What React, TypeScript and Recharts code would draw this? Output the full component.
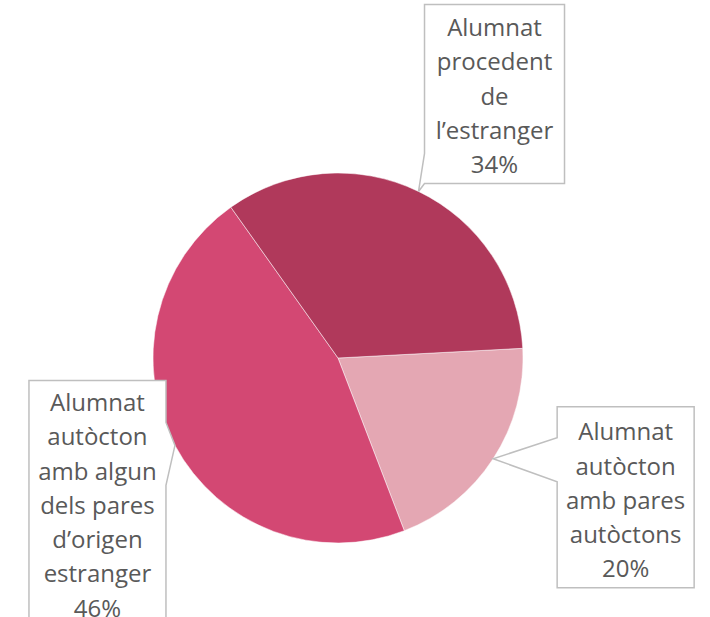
import { PieChart, Pie, Cell } from "recharts";

// slices in clockwise order starting just above 3 o'clock
const categories = [
  ["Alumnat", "autòcton", "amb pares", "autòctons"],
  ["Alumnat", "autòcton", "amb algun", "dels pares", "d’origen", "estranger"],
  ["Alumnat", "procedent", "de", "l’estranger"],
];
const values = [20, 46, 34];
const colors = ["#E4A7B3", "#D34873", "#B0395B"];

// callout box placement relative to the pointer tip on the slice edge
const callouts = [
  { dx: 64, dy: -52, w: 137, h: 181, side: "left", b1: 31, b2: 75, first: 24 },
  { dx: -146, dy: -65, w: 137, h: 252, side: "right", b1: 42, b2: 105, first: 21 },
  { dx: 6, dy: -187, w: 140, h: 179, side: "left", b1: 149, b2: 179, first: 22 },
];

const RAD = Math.PI / 180;
const LINE = 34.3;

const data = categories.map((lines, i) => ({
  name: lines.join(" "),
  value: values[i],
}));

function renderLabel(props: any) {
  const { cx, cy, midAngle, outerRadius, index, value } = props;
  const c = callouts[index];
  const tx = cx + outerRadius * Math.cos(-midAngle * RAD);
  const ty = cy + outerRadius * Math.sin(-midAngle * RAD);
  const x = tx + c.dx;
  const y = ty + c.dy;
  const r = x + c.w;
  const b = y + c.h;
  const path =
    c.side === "left"
      ? `M${x},${y} H${r} V${b} H${x} V${y + c.b2} L${tx},${ty} L${x},${y + c.b1} Z`
      : `M${x},${y} H${r} V${y + c.b1} L${tx},${ty} L${r},${y + c.b2} V${b} H${x} Z`;
  const lines = [...categories[index], `${value}%`];
  return (
    <g key={`callout-${index}`}>
      <path d={path} fill="#ffffff" stroke="#BFBFBF" strokeWidth={1.5} />
      {lines.map((t, k) => (
        <text
          key={k}
          x={x + c.w / 2}
          y={y + c.first + k * LINE}
          textAnchor="middle"
          dominantBaseline="central"
          fill="#595959"
          fontSize={24}
          fontFamily="'Open Sans', sans-serif"
        >
          {t}
        </text>
      ))}
    </g>
  );
}

export default function App() {
  return (
    <div style={{ position: "absolute", left: 0, top: 0, background: "#fff" }}>
      <PieChart width={710} height={617}>
        <Pie
          data={data}
          dataKey="value"
          nameKey="name"
          cx={333}
          cy={353}
          outerRadius={185}
          startAngle={3}
          endAngle={-357}
          stroke="#ffffff"
          strokeWidth={0.5}
          label={renderLabel}
          labelLine={false}
          isAnimationActive={false}
        >
          {data.map((d, i) => (
            <Cell key={d.name} fill={colors[i]} />
          ))}
        </Pie>
      </PieChart>
    </div>
  );
}
